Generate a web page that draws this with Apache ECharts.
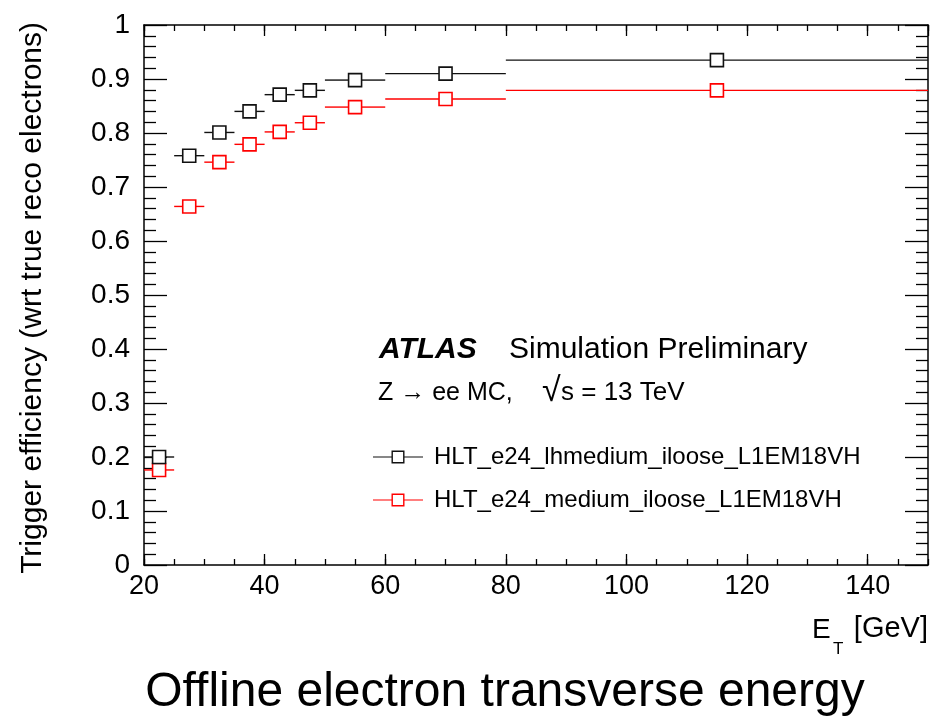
<!DOCTYPE html>
<html>
<head>
<meta charset="utf-8">
<script src="https://cdn.jsdelivr.net/npm/echarts@6/dist/echarts.min.js"></script>
<style>html,body{margin:0;padding:0;background:#fff}#c{width:944px;height:720px}</style>
</head>
<body>
<div id="c"></div>
<script>
// ---- data ----
const binLo = [20, 25, 30, 35, 40, 45, 50, 60, 80];
const binHi = [25, 30, 35, 40, 45, 50, 60, 80, 150];
const effLHMedium = [0.200, 0.758, 0.801, 0.840, 0.871, 0.879, 0.898, 0.910, 0.935];
const effMedium = [0.176, 0.664, 0.746, 0.779, 0.802, 0.819, 0.848, 0.863, 0.879];
const seriesNames = ['HLT_e24_lhmedium_iloose_L1EM18VH', 'HLT_e24_medium_iloose_L1EM18VH'];
const seriesColors = ['#111111', '#ff0000'];
const xTickInterval = 20;
const yTickInterval = 0.1;

const FONT = '"Liberation Sans", Arial, Helvetica, sans-serif';

function rows(vals) {
  return vals.map((v, i) => [binLo[i], binHi[i], v, (binLo[i] + binHi[i]) / 2]);
}

function renderItem(params, api) {
  const y = api.value(2);
  const pLo = api.coord([api.value(0), y]);
  const pHi = api.coord([api.value(1), y]);
  const pC = api.coord([api.value(3), y]);
  const color = api.visual('color');
  const h = 6.5;
  const ls = { stroke: color, lineWidth: 1.4 };
  return {
    type: 'group',
    children: [
      { type: 'line', shape: { x1: pLo[0], y1: pLo[1], x2: pC[0] - h, y2: pC[1] }, style: ls },
      { type: 'line', shape: { x1: pC[0] + h, y1: pC[1], x2: pHi[0], y2: pHi[1] }, style: ls },
      { type: 'rect', shape: { x: pC[0] - h, y: pC[1] - h, width: 2 * h, height: 2 * h }, style: { fill: '#fff', stroke: color, lineWidth: 1.6 } }
    ]
  };
}

const legendIcon = 'path://M0,5.9L18.5,5.9L18.5,7.1L0,7.1Z M31.5,5.9L50,5.9L50,7.1L31.5,7.1Z M18.5,0L31.5,0L31.5,13L18.5,13Z M19.9,1.4L19.9,11.6L30.1,11.6L30.1,1.4Z';

const axisLineStyle = { color: '#000', width: 1.5 };

const chart = echarts.init(document.getElementById('c'), null, { renderer: 'canvas' });
chart.setOption({
  animation: false,
  backgroundColor: '#fff',
  grid: { left: 144, right: 16, top: 25, bottom: 155, containLabel: false },
  title: {
    text: 'Offline electron transverse energy',
    left: 500, top: 664, textAlign: 'center',
    textStyle: { fontFamily: FONT, fontWeight: 'normal', fontSize: 48, color: '#000' }
  },
  legend: {
    orient: 'vertical', left: 373, top: 445, padding: 0,
    itemWidth: 50, itemHeight: 13, itemGap: 19,
    icon: legendIcon,
    itemStyle: { borderWidth: 0 },
    textStyle: { fontFamily: FONT, fontSize: 24, color: '#000', padding: [0, 0, 0, 6] },
    data: seriesNames
  },
  xAxis: [
    { type: 'value', position: 'bottom', min: 20, max: 150, interval: xTickInterval,
      axisLine: { show: true, lineStyle: axisLineStyle },
      axisTick: { show: true, inside: true, length: 11, lineStyle: { color: '#000', width: 1.3 } },
      axisLabel: { show: true, showMaxLabel: false, margin: 8, fontFamily: FONT, fontSize: 27, color: '#000' },
      splitLine: { show: false } },
    { type: 'value', position: 'bottom', min: 20, max: 150, interval: 5,
      axisLine: { show: false },
      axisTick: { show: true, inside: true, length: 6, lineStyle: { color: '#000', width: 1.3 } },
      axisLabel: { show: false }, splitLine: { show: false } },
    { type: 'value', position: 'top', min: 20, max: 150, interval: xTickInterval,
      axisLine: { show: true, lineStyle: axisLineStyle },
      axisTick: { show: true, inside: true, length: 11, lineStyle: { color: '#000', width: 1.3 } },
      axisLabel: { show: false }, splitLine: { show: false } },
    { type: 'value', position: 'top', min: 20, max: 150, interval: 5,
      axisLine: { show: false },
      axisTick: { show: true, inside: true, length: 6, lineStyle: { color: '#000', width: 1.3 } },
      axisLabel: { show: false }, splitLine: { show: false } }
  ],
  yAxis: [
    { type: 'value', position: 'left', min: 0, max: 1, interval: yTickInterval,
      axisLine: { show: true, lineStyle: axisLineStyle },
      axisTick: { show: true, inside: true, length: 23, lineStyle: { color: '#000', width: 1.3 } },
      minorTick: { show: true, splitNumber: 5, length: 12, lineStyle: { color: '#000', width: 1.3 } },
      axisLabel: { show: true, margin: 14, fontFamily: FONT, fontSize: 28, color: '#000' },
      splitLine: { show: false } },
    { type: 'value', position: 'right', min: 0, max: 1, interval: yTickInterval,
      axisLine: { show: true, lineStyle: axisLineStyle },
      axisTick: { show: true, inside: true, length: 23, lineStyle: { color: '#000', width: 1.3 } },
      minorTick: { show: true, splitNumber: 5, length: 12, lineStyle: { color: '#000', width: 1.3 } },
      axisLabel: { show: false }, splitLine: { show: false } }
  ],
  graphic: [
    { type: 'text', x: 33, y: 22, rotation: Math.PI / 2,
      style: { text: 'Trigger efficiency (wrt true reco electrons)', font: '30px ' + FONT, fill: '#000', textAlign: 'right', textVerticalAlign: 'middle' } },
    { type: 'text', x: 812, y: 630,
      style: { text: 'E', font: '28px ' + FONT, fill: '#000', textAlign: 'left', textVerticalAlign: 'middle' } },
    { type: 'text', x: 833, y: 649,
      style: { text: 'T', font: '17px ' + FONT, fill: '#000', textAlign: 'left', textVerticalAlign: 'middle' } },
    { type: 'text', x: 928, y: 629,
      style: { text: '[GeV]', font: '29px ' + FONT, fill: '#000', textAlign: 'right', textVerticalAlign: 'middle' } },
    { type: 'text', x: 379, y: 350,
      style: { text: 'ATLAS', font: 'italic bold 30px ' + FONT, fill: '#000', textAlign: 'left', textVerticalAlign: 'middle' } },
    { type: 'text', x: 509, y: 350,
      style: { text: 'Simulation Preliminary', font: '30px ' + FONT, fill: '#000', textAlign: 'left', textVerticalAlign: 'middle' } },
    { type: 'text', x: 378, y: 393,
      style: { text: 'Z \u2192 ee MC,', font: '25px ' + FONT, fill: '#000', textAlign: 'left', textVerticalAlign: 'middle' } },
    { type: 'text', x: 542, y: 392,
      style: { text: '\u221A', font: '34px ' + FONT, fill: '#000', textAlign: 'left', textVerticalAlign: 'middle' } },
    { type: 'text', x: 561, y: 393,
      style: { text: 's = 13 TeV', font: '26px ' + FONT, fill: '#000', textAlign: 'left', textVerticalAlign: 'middle' } }
  ],
  series: [
    { name: seriesNames[0], type: 'custom', xAxisIndex: 0, yAxisIndex: 0, renderItem: renderItem,
      itemStyle: { color: seriesColors[0] }, encode: { x: [0, 1, 3], y: 2 }, data: rows(effLHMedium), clip: true, z: 3 },
    { name: seriesNames[1], type: 'custom', xAxisIndex: 0, yAxisIndex: 0, renderItem: renderItem,
      itemStyle: { color: seriesColors[1] }, encode: { x: [0, 1, 3], y: 2 }, data: rows(effMedium), clip: true, z: 2 }
  ]
});
</script>
</body>
</html>
